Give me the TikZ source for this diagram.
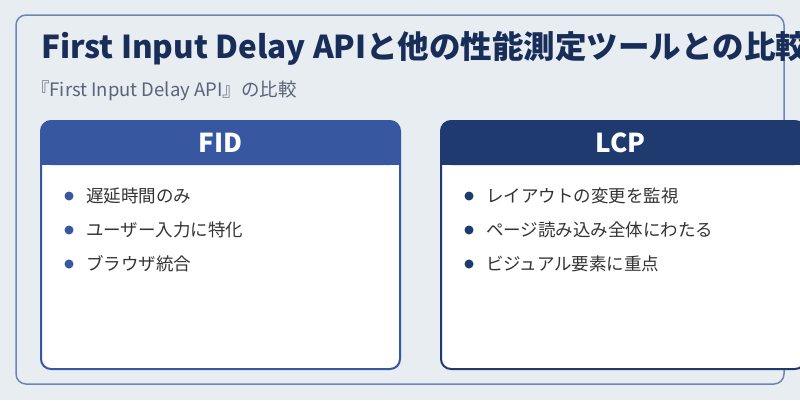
\documentclass[tikz,border=0pt]{standalone}
\usepackage{fontspec}
\setmainfont{Noto Sans CJK JP}
\definecolor{bg}{HTML}{E8EDF2}
\definecolor{frame}{HTML}{6F86B3}
\definecolor{blueA}{HTML}{3757A0}
\definecolor{blueB}{HTML}{1E3A6E}
\definecolor{txt}{HTML}{333333}
\definecolor{sub}{HTML}{5A6478}
\tikzset{
  item/.style={anchor=west,font=\fontsize{17.5}{19}\selectfont,text=txt,inner sep=0pt},
  hdr/.style={font=\bfseries\fontsize{26}{28}\selectfont,text=white},
}
\begin{document}
\begin{tikzpicture}[x=1pt,y=-1pt]
\useasboundingbox (0,0) rectangle (800,400);
\clip (0,0) rectangle (800,400);
\fill[bg] (0,0) rectangle (800,400);
\draw[frame,line width=1.5pt,rounded corners=10pt] (16,15) rectangle (784,384);
\node[anchor=base west,inner sep=0pt,font=\bfseries\fontsize{31.5}{33}\selectfont,text=blueB!80!black] (title) at (41,58) {First Input Delay APIと他の性能測定ツールとの比較};
\node[anchor=base west,inner sep=0pt,font=\fontsize{18.5}{20}\selectfont,text=sub] (subt) at (31,96) {『First Input Delay API』の比較};
% left card
\draw[blueA,line width=2pt,fill=white,rounded corners=10pt] (41,121) rectangle (400,369);
\fill[blueA,rounded corners=10pt] (41,121) -- (400,121) -- (400,165) -- (41,165) -- cycle;
\fill[blueA] (41,150) rectangle (400,165);
\node[hdr] (h1) at (220.5,143) {FID};
% right card
\draw[blueB,line width=2pt,fill=white,rounded corners=10pt] (441,121) rectangle (805,369);
\fill[blueB,rounded corners=10pt] (441,121) -- (805,121) -- (805,165) -- (441,165) -- cycle;
\fill[blueB] (441,150) rectangle (805,165);
\node[hdr] (h2) at (620.5,143) {LCP};
\foreach \t [count=\i] in {遅延時間のみ,ユーザー入力に特化,ブラウザ統合}{
  \fill[blueA] (69,{196+34*(\i-1)}) circle (4.5);
  \node[item] (l\i) at (86,{196+34*(\i-1)}) {\t};
}
\foreach \t [count=\i] in {レイアウトの変更を監視,ページ読み込み全体にわたる,ビジュアル要素に重点}{
  \fill[blueB] (469,{196+34*(\i-1)}) circle (4.5);
  \node[item] (r\i) at (486,{196+34*(\i-1)}) {\t};
}
\end{tikzpicture}
\end{document}
